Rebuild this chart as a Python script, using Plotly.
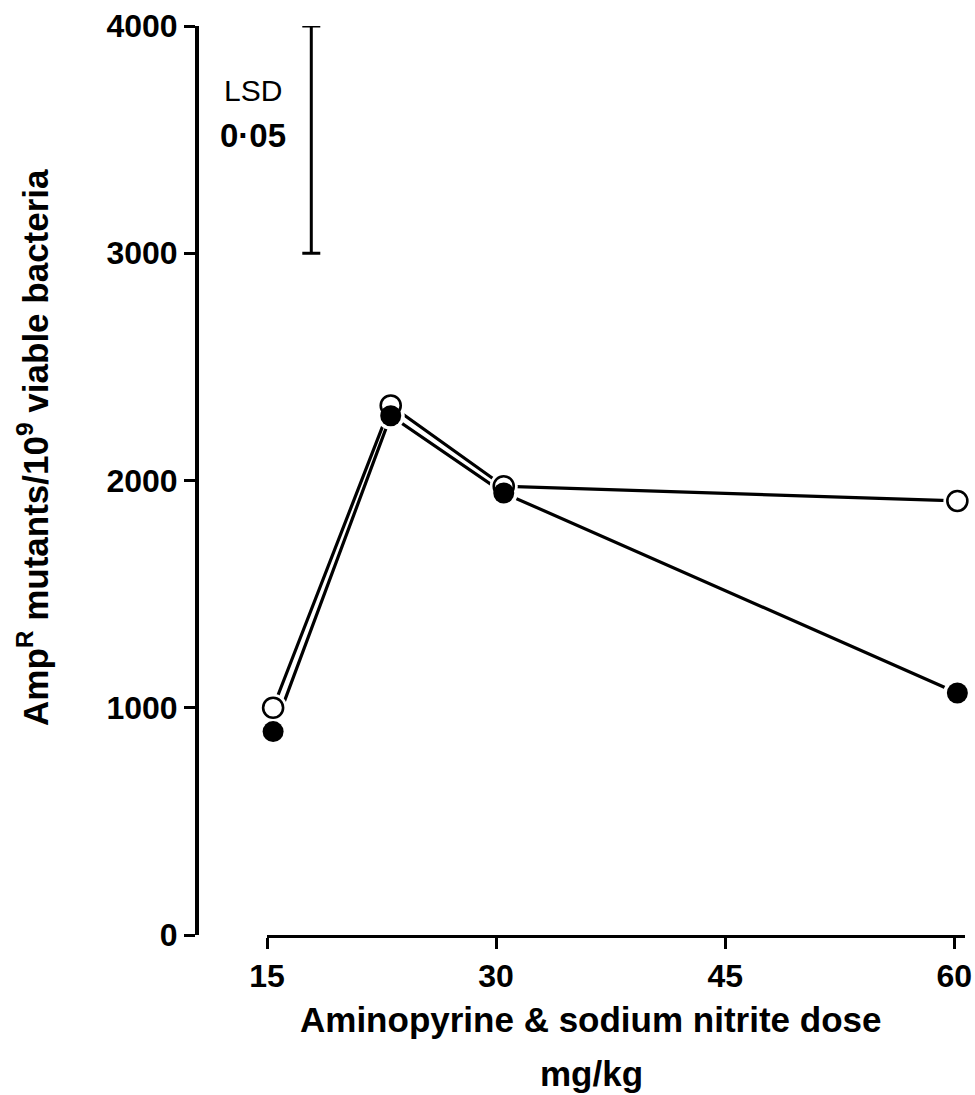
import plotly.graph_objects as go

# dose positions (mg/kg)
dose = [15.4, 23.1, 30.5, 60.2]
open_vals = [1000, 2330, 1975, 1910]
filled_vals = [895, 2285, 1945, 1065]

x_ticks = [15, 30, 45, 60]
y_ticks = [0, 1000, 2000, 3000, 4000]

lsd_x = 17.9
lsd_mid = 3500
lsd_half = 500

W, H = 975, 1095
FONT = "Liberation Sans, Arial, sans-serif"


def px(x):
    return x / W


def py(y):
    return 1 - y / H


fig = go.Figure()

# connecting lines
for vals in (open_vals, filled_vals):
    fig.add_trace(go.Scatter(x=dose, y=vals, mode="lines",
                             line=dict(color="black", width=3.2),
                             cliponaxis=False, hoverinfo="skip"))
# white halos so lines stop short of the symbols
for vals in (open_vals, filled_vals):
    fig.add_trace(go.Scatter(x=dose, y=vals, mode="markers",
                             marker=dict(size=28, color="white", line=dict(width=0)),
                             cliponaxis=False, hoverinfo="skip"))
fig.add_trace(go.Scatter(x=dose, y=open_vals, mode="markers",
                         marker=dict(size=20, color="white", line=dict(color="black", width=2.6)),
                         cliponaxis=False))
fig.add_trace(go.Scatter(x=dose, y=filled_vals, mode="markers",
                         marker=dict(size=21, color="black", line=dict(color="black", width=0)),
                         cliponaxis=False))

# LSD bar
fig.add_trace(go.Scatter(x=[lsd_x], y=[lsd_mid], mode="markers",
                         marker=dict(size=1, color="rgba(0,0,0,0)"),
                         error_y=dict(type="constant", value=lsd_half, color="black",
                                      thickness=3, width=9),
                         cliponaxis=False, hoverinfo="skip"))


def note(x, y, text, size, bold=True, angle=0):
    return dict(x=px(x), y=py(y), xref="paper", yref="paper", text=text,
                xanchor="center", yanchor="middle", showarrow=False,
                textangle=angle,
                font=dict(size=size, family=FONT, weight="bold" if bold else "normal"))


fig.update_layout(
    template="none",
    width=W, height=H,
    margin=dict(l=0, r=0, t=0, b=0),
    paper_bgcolor="white", plot_bgcolor="white",
    showlegend=False,
    font=dict(family=FONT, color="black"),
    xaxis=dict(
        domain=[px(267), px(965)],
        range=[15, 60.7],
        tickvals=x_ticks,
        ticks="outside", ticklen=11, tickwidth=3, tickcolor="black",
        showline=True, linewidth=3, linecolor="black",
        showgrid=False, zeroline=False, automargin=False,
        tickfont=dict(size=32, family=FONT, weight="bold"),
        anchor="y",
    ),
    yaxis=dict(
        domain=[py(935), py(26)],
        range=[0, 4000],
        tickvals=y_ticks,
        ticks="outside", ticklen=11, tickwidth=3, tickcolor="black",
        showline=True, linewidth=4, linecolor="black",
        showgrid=False, zeroline=False, automargin=False,
        tickfont=dict(size=32, family=FONT, weight="bold"),
        anchor="free", position=px(197),
    ),
    annotations=[
        note(33, 448, "Amp<sup>R</sup> mutants/10<sup>9</sup> viable bacteria", 35, angle=-90),
        note(590, 1019, "Aminopyrine &amp; sodium nitrite dose", 35),
        note(591, 1073, "mg/kg", 35),
        note(253, 90, "LSD", 30, bold=False),
        note(253, 135, "0·05", 33),
    ],
)

fig.write_html("out.html",
               config={"displayModeBar": False},
               post_script="document.body.style.margin='0';document.body.style.overflow='hidden';")
